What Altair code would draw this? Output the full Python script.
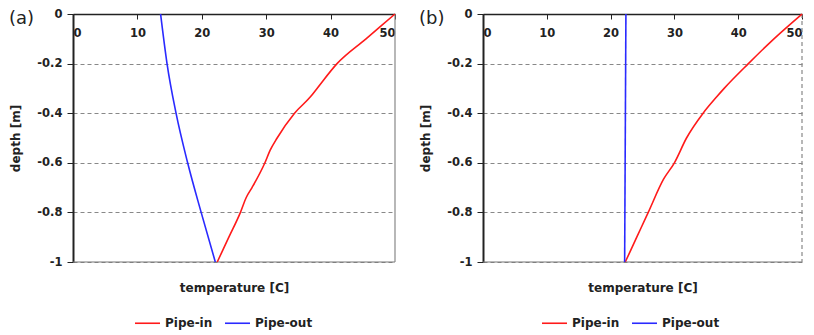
import altair as alt
import pandas as pd

# ---- data ----
series = ["Pipe-in", "Pipe-out"]
colors = ["#ff1a1a", "#2a2aff"]

a_in_depth = [0, -0.1, -0.2, -0.3, -0.333, -0.4, -0.5, -0.55, -0.6, -0.7, -0.74, -0.8, -0.9, -1]
a_in_temp = [50, 45.5, 41.0, 37.9, 36.9, 34.4, 31.7, 30.6, 29.8, 27.8, 26.9, 26.0, 24.2, 22.4]
a_out_depth = [0, -0.2, -0.4, -0.6, -0.8, -1]
a_out_temp = [13.6, 14.6, 16.0, 17.8, 19.9, 22.1]

b_in_depth = [0, -0.1, -0.2, -0.3, -0.335, -0.4, -0.5, -0.6, -0.666, -0.8, -0.9, -1]
b_in_temp = [50, 45.6, 41.6, 37.8, 36.6, 34.5, 31.9, 30.0, 28.3, 25.9, 24.1, 22.3]
b_out_depth = [0, -1]
b_out_temp = [22.4, 22.2]

x_ticks = [0, 10, 20, 30, 40, 50]
y_ticks = [0, -0.2, -0.4, -0.6, -0.8, -1]

FONT = "DejaVu Sans"
H = 248


def frame(in_d, in_t, out_d, out_t):
    rows = []
    for d, t in zip(in_d, in_t):
        rows.append({"series": series[0], "depth": d, "temp": t})
    for d, t in zip(out_d, out_t):
        rows.append({"series": series[1], "depth": d, "temp": t})
    return pd.DataFrame(rows)


def panel(df, label, w, right_dash, legend_x):
    xscale = alt.Scale(domain=[0, 50], nice=False)
    yscale = alt.Scale(domain=[-1, 0], nice=False)
    lines = alt.Chart(df).mark_line(strokeWidth=1.6, interpolate="monotone").encode(
        x=alt.X(
            "temp:Q",
            scale=xscale,
            axis=alt.Axis(
                orient="bottom",
                offset=-H,
                values=x_ticks,
                title="temperature [C]",
                titleY=273.5,
                titleBaseline="middle",
                titleFont=FONT,
                titleFontSize=12,
                titleFontWeight="bold",
                titleColor="#222",
                labelFont=FONT,
                labelFontSize=11.5,
                labelFontWeight="bold",
                labelColor="#222",
                labelPadding=8.5,
                tickSize=5,
                tickColor="#222",
                domainColor="#222",
                domainWidth=1.5,
                grid=False,
            ),
        ),
        y=alt.Y(
            "depth:Q",
            scale=yscale,
            axis=alt.Axis(
                values=y_ticks,
                labelExpr="datum.value == 0 ? '0' : (datum.value == -1 ? '-1' : '-' + format(abs(datum.value), '.1f'))",
                title="depth [m]",
                titleX=-58,
                titleBaseline="middle",
                titleFont=FONT,
                titleFontSize=12,
                titleFontWeight="bold",
                titleColor="#222",
                labelFont=FONT,
                labelFontSize=11.5,
                labelFontWeight="bold",
                labelColor="#222",
                labelPadding=5,
                tickSize=6,
                tickColor="#222",
                domainColor="#222",
                domainWidth=2,
                grid=True,
                gridDash=[4, 3],
                gridColor="#888",
                gridWidth=1,
            ),
        ),
        color=alt.Color(
            "series:N",
            scale=alt.Scale(domain=series, range=colors),
            legend=alt.Legend(
                title=None,
                orient="none",
                direction="horizontal",
                legendX=legend_x,
                legendY=295.5,
                symbolType="stroke",
                symbolSize=625,
                symbolStrokeWidth=1.6,
                labelFont=FONT,
                labelFontSize=12,
                labelFontWeight="bold",
                labelColor="#222",
                labelOffset=4,
                columnPadding=8,
                padding=0,
            ),
        ),
        order="depth:Q",
    )
    bottom = alt.Chart(pd.DataFrame({"v": [-1]})).mark_rule(color="#777", strokeWidth=1.2).encode(
        y=alt.Y("v:Q", scale=yscale)
    )
    right_kw = dict(color="#888", strokeWidth=1.2)
    if right_dash:
        right_kw["strokeDash"] = [4, 3]
    right = alt.Chart(pd.DataFrame({"v": [50]})).mark_rule(**right_kw).encode(
        x=alt.X("v:Q", scale=xscale)
    )
    tag = alt.Chart(pd.DataFrame({"t": [label]})).mark_text(
        font=FONT, fontSize=18, align="left", baseline="middle", color="#222"
    ).encode(text="t:N", x=alt.value(-64), y=alt.value(5))
    return alt.layer(bottom, right, lines, tag).properties(width=w, height=H)


pa = panel(frame(a_in_depth, a_in_temp, a_out_depth, a_out_temp), "(a)", 322, False, 61)
pb = panel(frame(b_in_depth, b_in_temp, b_out_depth, b_out_temp), "(b)", 319, True, 58)

chart = (
    alt.hconcat(pa, pb, spacing=20)
    .resolve_legend(color="independent")
    .properties(padding={"left": 1, "top": 0, "right": 0, "bottom": 0})
    .configure_view(stroke=None)
)

chart.save("out.html", embed_options={"renderer": "svg", "actions": False})
